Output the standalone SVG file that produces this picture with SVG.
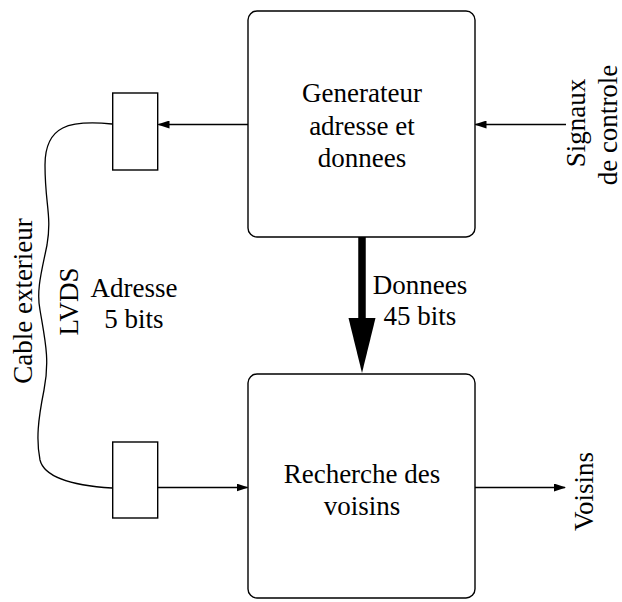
<svg xmlns="http://www.w3.org/2000/svg" width="622" height="602" viewBox="0 0 622 602">
<style>
.box{fill:#fff;stroke:#000;stroke-width:1.4}
.ln{fill:none;stroke:#000;stroke-width:1.3}
text{font-family:"Liberation Serif","Times New Roman",serif;font-size:27px;fill:#000}
.c{text-anchor:middle}
</style>
<defs>
<marker id="ah" markerWidth="12" markerHeight="8" refX="11" refY="4" orient="auto" markerUnits="userSpaceOnUse">
<path d="M0,0 L12,4 L0,8 z" fill="#000"/>
</marker>
</defs>
<rect width="622" height="602" fill="#fff"/>
<g id="connectors">
<line class="ln" x1="248" y1="124.5" x2="158.5" y2="124.5" marker-end="url(#ah)"/>
<line class="ln" x1="566" y1="124.5" x2="475.5" y2="124.5" marker-end="url(#ah)"/>
<line class="ln" x1="158" y1="487.5" x2="247.5" y2="487.5" marker-end="url(#ah)"/>
<line class="ln" x1="475" y1="487.5" x2="565" y2="487.5" marker-end="url(#ah)"/>
<line x1="362" y1="237" x2="362" y2="320" stroke="#000" stroke-width="7.5"/>
<path d="M348.5,318 L375.5,318 L362,373 z" fill="#000"/>
<path class="ln" d="M112,124 C70,120 45,125 45,165 C45,205 52,215 47,245 C42,270 36,290 40,310 C45,340 50,360 44,390 C38,420 36,440 40,460 C45,480 80,486 112,488"/>
</g>
<g id="gen">
<rect class="box" x="248" y="11" width="227" height="226" rx="9"/>
<text class="c" x="362" y="101.5">Generateur</text>
<text class="c" x="362" y="134.5">adresse et</text>
<text class="c" x="362" y="166.5">donnees</text>
</g>
<g id="rech">
<rect class="box" x="248" y="374" width="227" height="224" rx="9"/>
<text class="c" x="362" y="483">Recherche des</text>
<text class="c" x="362" y="515">voisins</text>
</g>
<g id="emit">
<rect class="box" x="112.7" y="93" width="45" height="77"/>
</g>
<g id="recv">
<rect class="box" x="112.7" y="442" width="45" height="76"/>
</g>
<g id="labels">
<text class="c" x="420" y="294">Donnees</text>
<text class="c" x="420" y="325">45 bits</text>
<text class="c" x="134" y="296.5">Adresse</text>
<text class="c" x="134" y="328">5 bits</text>
<text class="c" transform="translate(77.5,301.5) rotate(-90)">LVDS</text>
<text class="c" transform="translate(31.5,301) rotate(-90)">Cable exterieur</text>
<text class="c" transform="translate(585,123) rotate(-90)">Signaux</text>
<text class="c" transform="translate(616.5,125) rotate(-90)">de controle</text>
<text class="c" transform="translate(593,491.5) rotate(-90)">Voisins</text>
</g>
</svg>
